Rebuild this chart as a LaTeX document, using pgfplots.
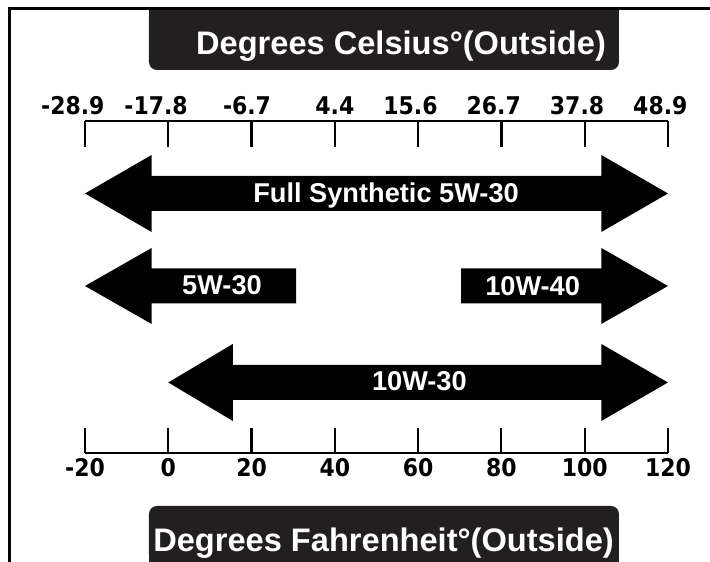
\documentclass[border=0pt]{standalone}
\usepackage{pgfplots}
\pgfplotsset{compat=1.18}
\usepackage{fontspec}
\setmainfont{Liberation Sans}
\newfontfamily\dejavuc{DejaVu Sans Condensed}
\definecolor{boxbg}{HTML}{231F20}
\newcommand{\cl}[2]{\makebox[0pt][r]{#1}.\makebox[0pt][l]{#2}}
\begin{document}
\begin{tikzpicture}
\begin{axis}[
  scale only axis, width=291.5pt, height=166pt,
  xmin=-20, xmax=120, ymin=-453, ymax=-121,
  axis x line*=bottom, axis y line=none, ytick=\empty,
  axis line style={-, line width=1.1pt, black},
  xtick={-20,0,20,40,60,80,100,120},
  xticklabels={-20,0,20,40,60,80,100,120},
  tick align=inside, major tick length=12.5pt,
  every tick/.style={line width=1.1pt, black},
  xticklabel style={font=\dejavuc\bfseries\fontsize{12.2}{14}\selectfont, inner sep=0pt, yshift=-2.5pt},
  clip=false,
]
% Full Synthetic 5W-30
\addplot[fill=black, draw=none] coordinates {(-20,-193.5) (-4,-155) (-4,-176) (104,-176) (104,-155) (120,-193.5) (104,-232) (104,-211) (-4,-211) (-4,-232)} -- cycle;
% 5W-30
\addplot[fill=black, draw=none] coordinates {(-20,-286) (-4,-248) (-4,-268.5) (30.7,-268.5) (30.7,-303.5) (-4,-303.5) (-4,-324)} -- cycle;
% 10W-40
\addplot[fill=black, draw=none] coordinates {(70.3,-268.5) (104,-268.5) (104,-248) (120,-286) (104,-324) (104,-303.5) (70.3,-303.5)} -- cycle;
% 10W-30
\addplot[fill=black, draw=none] coordinates {(0,-382.5) (15.5,-344) (15.5,-365) (104,-365) (104,-344) (120,-382.5) (104,-421) (104,-400) (15.5,-400) (15.5,-421)} -- cycle;

\node[text=white, anchor=base, font=\fontsize{13.6}{16}\selectfont\bfseries] at (axis cs:52.3,-202.5) {Full Synthetic 5W-30};
\node[text=white, anchor=base, font=\fontsize{13.6}{16}\selectfont\bfseries] at (axis cs:12.9,-295) {5W-30};
\node[text=white, anchor=base, font=\fontsize{13.6}{16}\selectfont\bfseries] at (axis cs:87.5,-296) {10W-40};
\node[text=white, anchor=base, font=\fontsize{13.6}{16}\selectfont\bfseries] at (axis cs:60.3,-391) {10W-30};

% title boxes
\fill[boxbg, rounded corners=4pt] (axis cs:-4.63,-9) rectangle (axis cs:108.24,-70);
\fill[boxbg] (axis cs:-4.63,-9) rectangle (axis cs:108.24,-40);
\fill[boxbg, rounded corners=4pt] (axis cs:-4.63,-506) rectangle (axis cs:108.24,-562);
\fill[boxbg] (axis cs:-4.63,-530) rectangle (axis cs:108.24,-562);
\node[text=white, anchor=base, font=\fontsize{16.3}{19}\selectfont\bfseries] at (axis cs:55.9,-55) {Degrees Celsius°(Outside)};
\node[text=white, anchor=base, font=\fontsize{16.3}{19}\selectfont\bfseries] at (axis cs:51.7,-552) {Degrees Fahrenheit°(Outside)};

% frame
\draw[line width=1.5pt, black] (axis cs:-38.25,-562) -- (axis cs:-38.25,-9) -- (axis cs:130.096,-9);

\coordinate (bbA) at (axis cs:-40.413,-562);
\coordinate (bbB) at (axis cs:130.096,0);
\end{axis}
\begin{axis}[
  scale only axis, width=291.5pt, height=166pt,
  xmin=-20, xmax=120, ymin=-453, ymax=-121,
  axis x line*=top, axis y line=none, ytick=\empty,
  axis line style={-, line width=1.1pt, black},
  xtick={-20,0,20,40,60,80,100,120},
  xticklabels={\cl{-28}{9},\cl{-17}{8},\cl{-6}{7},\cl{4}{4},\cl{15}{6},\cl{26}{7},\cl{37}{8},\cl{48}{9}},
  tick align=inside, major tick length=13pt,
  every tick/.style={line width=1.1pt, black},
  xticklabel style={font=\dejavuc\bfseries\fontsize{12.2}{14}\selectfont, inner sep=0pt, yshift=3pt},
  clip=false,
]
\end{axis}
\pgfresetboundingbox
\path[use as bounding box] (bbA) rectangle (bbB);
\end{tikzpicture}
\end{document}
